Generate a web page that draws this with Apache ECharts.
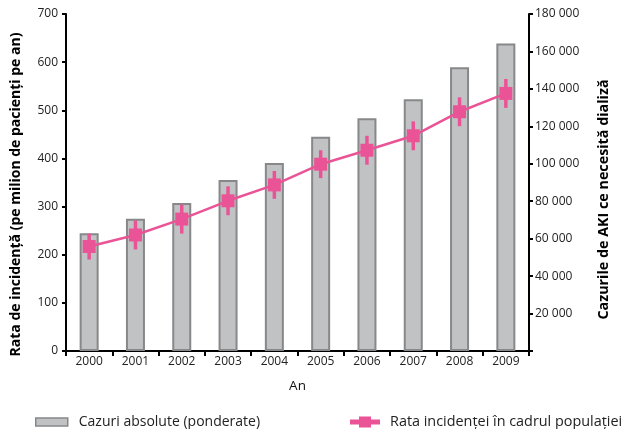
<!DOCTYPE html>
<html>
<head>
<meta charset="utf-8">
<script src="https://cdn.jsdelivr.net/npm/echarts@6/dist/echarts.min.js"></script>
<style>
html,body{margin:0;padding:0;background:#fff;}
#main{width:624px;height:429px;}
</style>
</head>
<body>
<div id="main"></div>
<script>
// ---- data ----
var years = ['2000','2001','2002','2003','2004','2005','2006','2007','2008','2009'];
var absoluteCases = [62900, 70700, 79000, 91300, 100400, 114500, 124300, 134400, 151500, 164300];
var incidenceRate = [217, 241, 274, 312, 345, 388, 417, 447, 497, 535];
var rateErrLow   = [27, 30, 30, 30, 29, 29, 30, 30, 30, 30];
var rateErrHigh  = [27, 30, 30, 30, 29, 29, 30, 30, 30, 30];
var leftTicks = {min: 0, max: 700, interval: 100};
var rightTicks = {min: 0, max: 180000, interval: 20000};
var barName = 'Cazuri absolute (ponderate)';
var lineName = 'Rata incidenței în cadrul populației';

var FONT = 'Open Sans';
var PINK = '#ea5497';

var errData = years.map(function (y, i) {
  return [i, incidenceRate[i] - rateErrLow[i], incidenceRate[i] + rateErrHigh[i]];
});

function fmtSpace(v) {
  if (v === 0) return '';
  return String(v).replace(/\B(?=(\d{3})+(?!\d))/g, ' ');
}

var lineIcon = 'path://M0,3 L9,3 L9,0 L21,0 L21,3 L30,3 L30,8 L21,8 L21,11 L9,11 L9,8 L0,8 Z';

var chart = echarts.init(document.getElementById('main'), null, {renderer: 'canvas'});
chart.setOption({
  animation: false,
  textStyle: {fontFamily: FONT},
  grid: {left: 66, right: 95, top: 14, bottom: 78, containLabel: false},
  legend: [
    {
      data: [{name: barName, icon: 'rect'}],
      left: 30, top: 410,
      itemWidth: 32, itemHeight: 8,
      itemStyle: {borderWidth: 1.5, borderColor: '#878889'},
      textStyle: {fontFamily: FONT, fontSize: 14, color: '#222', padding: [0, 0, 0, 6]},
      selectedMode: false
    },
    {
      data: [{name: lineName, icon: lineIcon}],
      left: 345, top: 410,
      itemWidth: 30, itemHeight: 11,
      itemStyle: {color: PINK, borderWidth: 0},
      textStyle: {fontFamily: FONT, fontSize: 14.4, color: '#222', padding: [0, 0, 0, 5]},
      selectedMode: false
    }
  ],
  xAxis: {
    type: 'category',
    data: years,
    boundaryGap: true,
    name: 'An',
    nameLocation: 'middle',
    nameGap: 28,
    nameTextStyle: {fontFamily: FONT, fontSize: 13.5, color: '#111'},
    axisLine: {lineStyle: {color: '#000', width: 2}},
    axisTick: {show: true, length: 5, lineStyle: {color: '#000', width: 2}},
    axisLabel: {fontFamily: FONT, fontSize: 12, color: '#222', margin: 5, interval: 0}
  },
  yAxis: [
    {
      type: 'value',
      position: 'left',
      min: leftTicks.min, max: leftTicks.max, interval: leftTicks.interval,
      name: 'Rata de incidență (pe milion de pacienți pe an)',
      nameLocation: 'middle',
      nameRotate: 90,
      nameGap: 43,
      nameTextStyle: {fontFamily: FONT, fontSize: 14, fontWeight: 'bold', color: '#000', padding: [0, 24, 0, 0]},
      axisLine: {show: true, lineStyle: {color: '#000', width: 2}},
      axisTick: {show: true, length: 4, lineStyle: {color: '#000', width: 2}},
      axisLabel: {fontFamily: FONT, fontSize: 12, color: '#222', margin: 8},
      splitLine: {show: false}
    },
    {
      type: 'value',
      position: 'right',
      min: rightTicks.min, max: rightTicks.max, interval: rightTicks.interval,
      name: 'Cazurile de AKI ce necesită dializă',
      nameLocation: 'middle',
      nameRotate: 90,
      nameGap: 68,
      nameTextStyle: {fontFamily: FONT, fontSize: 14.3, fontWeight: 'bold', color: '#000', padding: [0, 34, 0, 0]},
      axisLine: {show: true, lineStyle: {color: '#000', width: 2}},
      axisTick: {show: true, length: 4, lineStyle: {color: '#000', width: 2}},
      axisLabel: {fontFamily: FONT, fontSize: 12, color: '#222', margin: 6, formatter: fmtSpace},
      splitLine: {show: false}
    }
  ],
  series: [
    {
      name: barName,
      type: 'bar',
      yAxisIndex: 1,
      data: absoluteCases,
      barWidth: 19,
      itemStyle: {color: '#c1c2c4', borderColor: '#878889', borderWidth: 2}
    },
    {
      name: 'errors',
      type: 'custom',
      yAxisIndex: 0,
      data: errData,
      z: 3,
      renderItem: function (params, api) {
        var x = api.value(0);
        var lo = api.coord([x, api.value(1)]);
        var hi = api.coord([x, api.value(2)]);
        return {
          type: 'rect',
          shape: {x: lo[0] - 1.75, y: hi[1], width: 3.5, height: lo[1] - hi[1]},
          style: {fill: PINK}
        };
      }
    },
    {
      name: lineName,
      type: 'line',
      yAxisIndex: 0,
      data: incidenceRate,
      z: 4,
      symbol: 'rect',
      symbolSize: 13,
      lineStyle: {color: PINK, width: 2.5},
      itemStyle: {color: PINK}
    }
  ]
});
</script>
</body>
</html>
